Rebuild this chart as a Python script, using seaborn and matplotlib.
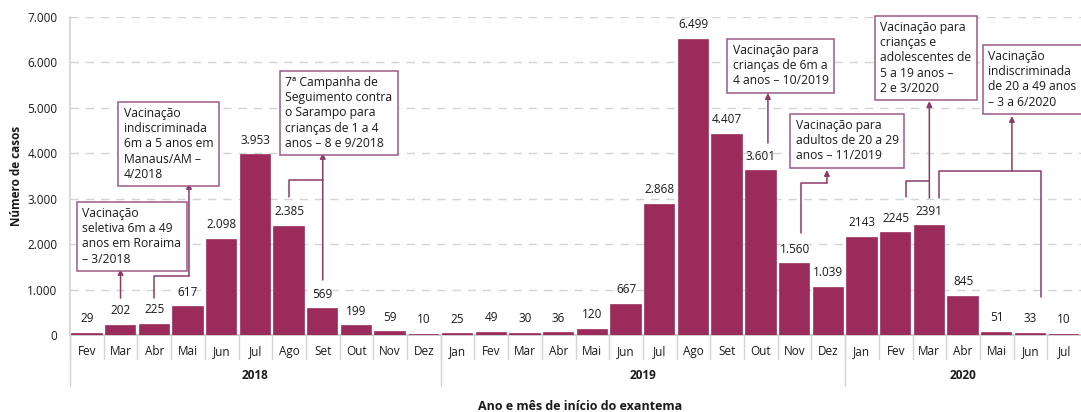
import numpy as np
import pandas as pd
import matplotlib.pyplot as plt
import matplotlib.transforms as mtransforms
import seaborn as sns

meses = ['Fev', 'Mar', 'Abr', 'Mai', 'Jun', 'Jul', 'Ago', 'Set', 'Out', 'Nov', 'Dez',
         'Jan', 'Fev', 'Mar', 'Abr', 'Mai', 'Jun', 'Jul', 'Ago', 'Set', 'Out', 'Nov', 'Dez',
         'Jan', 'Fev', 'Mar', 'Abr', 'Mai', 'Jun', 'Jul']
casos = [29, 202, 225, 617, 2098, 3953, 2385, 569, 199, 59, 10,
         25, 49, 30, 36, 120, 667, 2868, 6499, 4407, 3601, 1560, 1039,
         2143, 2245, 2391, 845, 51, 33, 10]
rotulos = ['29', '202', '225', '617', '2.098', '3.953', '2.385', '569', '199', '59', '10',
           '25', '49', '30', '36', '120', '667', '2.868', '6.499', '4.407', '3.601', '1.560', '1.039',
           '2143', '2245', '2391', '845', '51', '33', '10']
anos = ['2018', '2019', '2020']
meses_por_ano = [11, 12, 7]
yticks = [0, 1000, 2000, 3000, 4000, 5000, 6000, 7000]
ytick_labels = ['0', '1.000', '2.000', '3.000', '4.000', '5.000', '6.000', '7.000']

df = pd.DataFrame({'idx': np.arange(len(casos)), 'casos': casos})

sns.set_theme(style='white')
plt.rcParams['font.family'] = ['Open Sans', 'DejaVu Sans']

cor_barra = '#9b2b5b'
cor_linha = '#8c3a6a'
cor_caixa = '#9c5a86'
cinza = '#d4d4d4'
cor_texto = '#1a1a1a'

fig = plt.figure(figsize=(10.81, 4.12), dpi=100)
ax = fig.add_axes([70 / 1081, 77 / 412, 1011 / 1081, 318 / 412])

sns.barplot(data=df, x='idx', y='casos', color=cor_barra, saturation=1, width=0.87,
            edgecolor=cor_barra, linewidth=1.2, ax=ax)

ax.set_xlim(-0.5, len(casos) - 0.5)
ax.set_ylim(0, 7000)
ax.set_yticks(yticks, ytick_labels, fontsize=8.5, color=cor_texto)
ax.set_xticks(np.arange(len(casos)), meses, fontsize=8.5, color=cor_texto)
ax.tick_params(axis='both', length=0)
ax.tick_params(axis='x', pad=7)
ax.tick_params(axis='y', pad=9)
ax.set_xlabel('')
ax.set_ylabel('Número de casos', fontsize=8.5, fontweight='bold', labelpad=3, color=cor_texto)
ax.yaxis.grid(True, color=cinza, linestyle=(0, (6, 5)), linewidth=1)
ax.set_axisbelow(True)
for s in ['top', 'right']:
    ax.spines[s].set_visible(False)
ax.spines['left'].set_color(cinza)
ax.spines['bottom'].set_color('#c8c8c8')
ax.spines['bottom'].set_zorder(0.5)

# rótulos de valor
for i, (v, r) in enumerate(zip(casos, rotulos)):
    ax.annotate(r, (i, v), xytext=(0, 6), textcoords='offset points',
                ha='center', va='bottom', fontsize=8.5, color=cor_texto)

# separadores dos meses e dos anos
trans = mtransforms.blended_transform_factory(ax.transData, ax.transAxes)
limites = np.cumsum([0] + meses_por_ano) - 0.5
for b in np.arange(len(casos)) - 0.5:
    ax.plot([b, b], [0, -0.075], transform=trans, color=cinza, lw=1, clip_on=False)
for b in limites[:-1]:
    ax.plot([b, b], [0, -0.16], transform=trans, color=cinza, lw=1, clip_on=False)
for ano, a, b in zip(anos, limites[:-1], limites[1:]):
    ax.text((a + b) / 2, -0.128, ano, transform=trans, ha='center', va='center',
            fontsize=8.5, fontweight='bold', color=cor_texto)

fig.text(0.537, 0.013, 'Ano e mês de início do exantema', ha='center', va='center',
         fontsize=9, fontweight='bold', color=cor_texto)

# caixas de anotação
caixa = dict(boxstyle='square,pad=0.45', fc='white', ec=cor_caixa, lw=1.1)
textos = [
    (-0.14, 2817, 'Vacinação\nseletiva 6m a 49\nanos em Roraima\n– 3/2018'),
    (1.10, 5018, 'Vacinação\nindiscriminada\n6m a 5 anos em\nManaus/AM –\n4/2018'),
    (5.88, 5700, '7ª Campanha de\nSeguimento contra\no Sarampo para\ncrianças de 1 a 4\nanos – 8 e 9/2018'),
    (19.17, 6405, 'Vacinação para\ncrianças de 6m a\n4 anos – 10/2019'),
    (21.04, 4754, 'Vacinação para\nadultos de 20 a 29\nanos – 11/2019'),
    (23.54, 6911, 'Vacinação para\ncrianças e\nadolescentes de\n5 a 19 anos –\n2 e 3/2020'),
    (26.74, 6273, 'Vacinação\nindiscriminada\nde 20 a 49 anos\n– 3 a 6/2020'),
]
for x, y, t in textos:
    ax.text(x, y, t, ha='left', va='top', fontsize=8.7, color=cor_texto,
            linespacing=1.22, bbox=caixa, zorder=5)

# linhas de ligação
linhas = [
    ([2, 2, 3.03], [814, 1299, 1299]),
    ([6, 6, 7], [3037, 3412, 3412]),
    ([21.2, 21.2, 21.96], [2245, 3345, 3345]),
    ([24.3, 24.3, 25], [3037, 3389, 3389]),
    ([25.3, 25.3, 28.3, 28.3], [3015, 3610, 3610, 836]),
]
for xs, ys in linhas:
    ax.plot(xs, ys, color=cor_linha, lw=1.1, zorder=4)

setas = [
    (1, 814, 1453),
    (3.03, 1299, 3346),
    (7, 1211, 4006),
    (20.21, 4226, 5326),
    (21.96, 3345, 3632),
    (25, 3015, 5150),
    (27.45, 3610, 4820),
]
for x, y0, y1 in setas:
    ax.annotate('', xy=(x, y1), xytext=(x, y0),
                arrowprops=dict(arrowstyle='-|>', color=cor_linha, lw=1.1,
                                mutation_scale=8, shrinkA=0, shrinkB=0), zorder=4)

fig.savefig('out.png', dpi=100)
